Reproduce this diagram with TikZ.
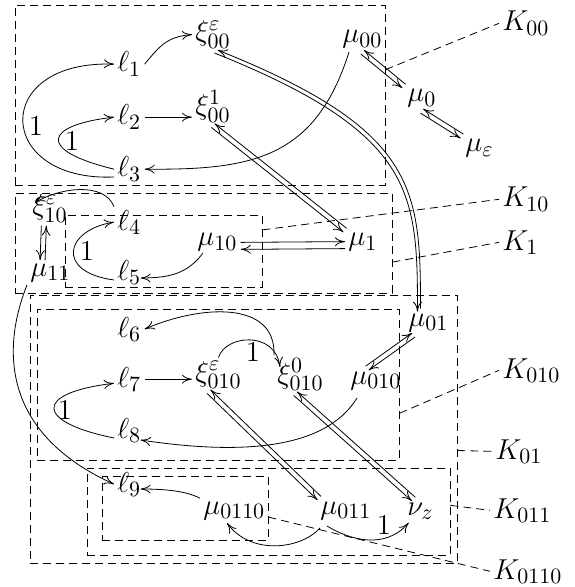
\documentclass[tikz,border=0pt]{standalone}
\usetikzlibrary{arrows.meta,calc,fit}
\DeclareMathSizes{14}{14}{11}{8}

% two opposite arrows side by side, #1 = offset from the middle line
\newcommand\twoway[3][1.25pt]{%
  \draw[flow] ($(#2)!#1!90:(#3)$) -- ($(#3)!#1!-90:(#2)$);
  \draw[flow] ($(#3)!#1!90:(#2)$) -- ($(#2)!#1!-90:(#3)$);}

\begin{document}
\begin{tikzpicture}[
  x=0.5pt, y=-0.5pt,
  font=\fontsize{14}{17}\selectfont,
  lab/.style={anchor=base west, inner sep=1.5pt},
  flow/.style={-{To[length=5pt,width=4.5pt]}},
  region/.style={draw, dash pattern=on 4pt off 2.5pt, inner sep=0pt},
  lead/.style={dash pattern=on 4pt off 2.5pt}
]
\useasboundingbox (0,0) rectangle (574,587);

% dashed regions
\node[region, fit={(15,5) (385,185)}] (B00) {};
\node[region, fit={(15,193) (392,293)}] (B1) {};
\node[region, fit={(65,215) (262,287)}] (B10) {};
\node[region, fit={(30,295) (457,563)}] (B01) {};
\node[region, fit={(37,309) (399,460)}] (B010) {};
\node[region, fit={(87,468) (450,555)}] (B011) {};
\node[region, fit={(102,476) (268,540)}] (B0110) {};

% states
\node[lab] (l1) at (114,72) {$\ell_1$};
\node[lab] (l2) at (114,125) {$\ell_2$};
\node[lab] (l3) at (114,177) {$\ell_3$};
\node[lab] (xi00e) at (192,41) {$\xi^{\varepsilon}_{00}$};
\node[lab] (xi001) at (192,115) {$\xi^{1}_{00}$};
\node[lab] (mu00) at (339,43) {$\mu_{00}$};
\node[lab] (mu0) at (404,102) {$\mu_{0}$};
\node[lab] (mueps) at (462,152) {$\mu_{\varepsilon}$};
\node[lab] (xi10) at (29,215) {$\xi^{\varepsilon}_{10}$};
\node[lab] (mu11) at (27,276) {$\mu_{11}$};
\node[lab] (l4) at (114,230) {$\ell_4$};
\node[lab] (l5) at (114,280) {$\ell_5$};
\node[lab] (mu10) at (194,246) {$\mu_{10}$};
\node[lab] (mu1) at (345,246) {$\mu_{1}$};
\node[lab] (l6) at (114,337) {$\ell_6$};
\node[lab] (l7) at (114,387) {$\ell_7$};
\node[lab] (l8) at (114,438) {$\ell_8$};
\node[lab] (xi010e) at (192,381) {$\xi^{\varepsilon}_{010}$};
\node[lab] (xi0100) at (274,383) {$\xi^{0}_{010}$};
\node[lab] (mu010) at (347,384) {$\mu_{010}$};
\node[lab] (mu01) at (405,326) {$\mu_{01}$};
\node[lab] (l9) at (114,492) {$\ell_9$};
\node[lab] (mu0110) at (200,514) {$\mu_{0110}$};
\node[lab] (mu011) at (317,514) {$\mu_{011}$};
\node[lab] (nuz) at (404,515) {$\nu_z$};

% region names
\node[lab] (K00) at (499,31) {$K_{00}$};
\node[lab] (K10) at (499,207) {$K_{10}$};
\node[lab] (K1) at (499,250) {$K_{1}$};
\node[lab] (K010) at (499,378) {$K_{010}$};
\node[lab] (K01) at (492,459) {$K_{01}$};
\node[lab] (K011) at (490,518) {$K_{011}$};
\node[lab] (K0110) at (490,579) {$K_{0110}$};

\draw[lead] ($(B00.north east)!0.36!(B00.south east)$) -- (K00.west);
\draw[lead] ($(B10.north east)!0.21!(B10.south east)$) -- (K10.west);
\draw[lead] ($(B1.north east)!0.69!(B1.south east)$) -- (K1.west);
\draw[lead] ($(B010.north east)!0.69!(B010.south east)$) -- (K010.west);
\draw[lead] ($(B01.north east)!0.58!(B01.south east)$) -- (K01.west);
\draw[lead] ($(B011.north east)!0.43!(B011.south east)$) -- (K011.west);
\draw[lead] ($(B0110.north east)!0.64!(B0110.south east)$) -- (K0110.west);

% weights
\node (one1) at (36,126) {$1$};
\node (one2) at (72,141) {$1$};
\node (one3) at (87,251) {$1$};
\node (one4) at (65,410) {$1$};
\node (one5) at (253,352) {$1$};
\node (one6) at (384,525) {$1$};

% paired arrows
\twoway[-1.25pt]{mu00.south}{mu0.north west}
\twoway[-1.25pt]{mu0.south}{mueps.north west}
\twoway[-1.25pt]{xi001.south}{mu1.north west}
\twoway[1.75pt]{mu10.-8}{mu1.188}
\twoway[-1.25pt]{xi10.-110}{mu11.122}
\twoway[1.25pt]{mu01.-140}{mu010.125}
\twoway[-1.25pt]{xi010e.-120}{mu011.155}
\twoway[-1.25pt]{xi0100.-105}{nuz.120}
\draw[flow] ([shift={(1.5,-1.5)}]mu01.127) .. controls +(0,-120) and +(200,80) .. ([shift={(1.5,-1.5)}]xi00e.-80);
\draw[flow] ([shift={(-1.5,1.5)}]xi00e.-80) .. controls +(200,80) and +(0,-120) .. ([shift={(-1.5,1.5)}]mu01.127);

% K00
\draw[flow] (l3.base west) .. controls (-5,182) and (-10,60) .. (l1.west);
\draw[flow] (l3.west) .. controls (35,150) and (45,125) .. (l2.west);
\draw[flow] (l1.east) .. controls +(15,-18) and +(-25,2) .. (xi00e.west);
\draw[flow] (l2.east) -- (l2.east -| xi001.west);
\draw[flow] ([xshift=5pt]mu00.south west) .. controls (315,160) and (250,170) .. (l3.east);

% K1
\draw[flow] (l4.north west) .. controls +(-10,-25) and +(25,-15) .. ($(xi10.north west)+(6,11)$);
\draw[flow] (l5.base west) .. controls (55,272) and (65,230) .. (l4.west);
\draw[flow] ($(mu10.south west)+(9,-2)$) .. controls +(-15,20) and +(30,0) .. ($(l5.base east)+(-4,-2)$);

% K010
\draw[flow] (xi0100.north west) .. controls (276,300) and (200,305) .. (l6.east);
\draw[flow] (xi010e.north) .. controls (225,335) and (275,330) .. ($(xi0100.north west)+(6,12)$);
\draw[flow] (l7.east) -- (l7.east -| xi010e.west);
\draw[flow] (l8.base west) .. controls (35,422) and (33,393) .. (l7.195);
\draw[flow] ($(mu010.south west)+(10,5)$) .. controls (325,450) and (240,455) .. ($(l8.base east)+(-4,2)$);

% K011
\draw[flow] (mu11.south west) .. controls (5,340) and (-5,430) .. (l9.west);
\draw[flow] (mu0110.north west) .. controls +(-15,-8) and +(20,0) .. ($(l9.base east)+(-4,-3)$);
\draw[flow] ($(mu011.south west)+(3,5)$) .. controls (300,550) and (250,555) .. (mu0110.-120);
\draw[flow] ($(mu011.south west)+(10,3)$) .. controls (350,540) and (385,550) .. (nuz.-135);
\end{tikzpicture}
\end{document}
